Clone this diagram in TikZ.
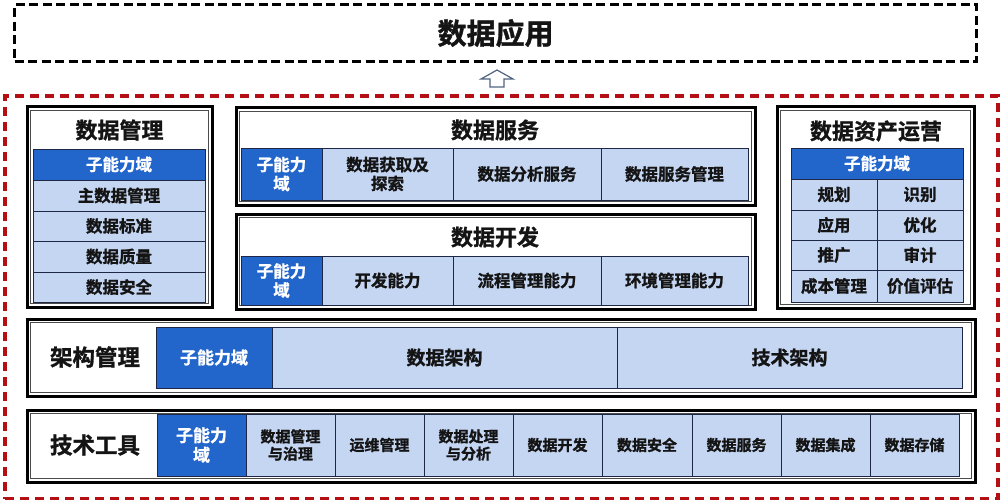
\documentclass[tikz,border=0pt]{standalone}
\usepackage{fontspec}
\setmainfont{Noto Sans CJK SC}[BoldFont={Noto Sans CJK SC Bold}, BoldFeatures={FakeBold=1.2}]
\definecolor{dblue}{RGB}{34,102,204}
\definecolor{lblue}{RGB}{197,214,242}
\definecolor{cellline}{RGB}{30,40,70}
\definecolor{dred}{RGB}{180,16,20}
\definecolor{txt}{RGB}{20,20,20}
\definecolor{arrowc}{RGB}{80,100,130}
\newcommand\fs[1]{\fontsize{#1pt}{\dimexpr #1pt*115/100\relax}\selectfont\bfseries}
\newcommand\cellat[7]{%
  \node[#1, anchor=north west, minimum width={(#5)-(#3)}, minimum height={(#6)-(#4)}] (#2) at (#3,#4) {#7};}
\newcommand\frameat[5]{%
  \node[frame, anchor=north west, minimum width={(#4)-(#2)}, minimum height={(#5)-(#3)}] (#1) at (#2,#3) {};
  \draw[innerline] ({#2+3.6},{#3+3.6}) rectangle ({#4-3.6},{#5-3.6});}
\tikzset{
  frame/.style={draw=black, line width=3pt, fill=white, inner sep=0pt, outer sep=0pt},
  innerline/.style={draw=black!70, line width=0.7pt},
  hdr/.style={fill=dblue, draw=cellline, line width=0.7pt, text=white, align=center, inner sep=0pt, outer sep=0pt},
  cell/.style={fill=lblue, draw=cellline, line width=0.7pt, text=txt, align=center, inner sep=0pt, outer sep=0pt},
  ttl/.style={text=txt, inner sep=0pt, font=\fs{22}},
  cf/.style={font=\fs{16.5}},
}
\begin{document}
\begin{tikzpicture}[x=1pt,y=-1pt]
\useasboundingbox (0,0) rectangle (1000,500);
\fill[white] (0,0) rectangle (1000,500);

% top application box
\node[draw=black, line width=3.2pt, dash pattern=on 9pt off 4.5pt, anchor=north west,
      minimum width=962, minimum height=57, inner sep=0pt, text=txt, font=\fs{29}]
      (app) at (13,3) {数据应用};

% red dashed container
\node[draw=dred, line width=3.8pt, dash pattern=on 9pt off 6pt, anchor=north west,
      minimum width=993, minimum height=403, inner sep=0pt] (cont) at (3,94) {};

% hollow up arrow
\draw[draw=arrowc, line width=1.2pt, fill=white, line join=miter]
  (490,87) -- (490,79) -- (481,79) -- (497,70) -- (513,79) -- (504,79) -- (504,87) -- cycle;

% ===== 数据管理 =====
\frameat{dm}{27}{107}{212}{307}
\node[ttl] (dmt) at (119.5,130) {数据管理};
\cellat{hdr,cf}{dm0}{33}{149}{205}{180}{子能力域}
\cellat{cell,cf}{dm1}{33}{180}{205}{211}{主数据管理}
\cellat{cell,cf}{dm2}{33}{211}{205}{241}{数据标准}
\cellat{cell,cf}{dm3}{33}{241}{205}{272}{数据质量}
\cellat{cell,cf}{dm4}{33}{272}{205}{302}{数据安全}

% ===== 数据服务 =====
\frameat{ds}{236}{108}{755}{205}
\node[ttl] (dst) at (495,130) {数据服务};
\cellat{hdr,cf}{ds0}{241}{148}{322}{200}{子能力\\域}
\cellat{cell,cf}{ds1}{322}{148}{453}{200}{数据获取及\\探索}
\cellat{cell,cf}{ds2}{453}{148}{601}{200}{数据分析服务}
\cellat{cell,cf}{ds3}{601}{148}{748}{200}{数据服务管理}

% ===== 数据开发 =====
\frameat{dd}{236}{214}{755}{309}
\node[ttl] (ddt) at (495,237) {数据开发};
\cellat{hdr,cf}{dd0}{241}{256}{322}{305}{子能力\\域}
\cellat{cell,cf}{dd1}{322}{256}{453}{305}{开发能力}
\cellat{cell,cf}{dd2}{453}{256}{601}{305}{流程管理能力}
\cellat{cell,cf}{dd3}{601}{256}{748}{305}{环境管理能力}

% ===== 数据资产运营 =====
\frameat{da}{777}{107}{974}{308}
\node[ttl] (dat) at (876,131) {数据资产运营};
\cellat{hdr,cf}{da0}{791}{148}{963}{179}{子能力域}
\cellat{cell,cf}{da1}{791}{179}{877}{210}{规划}
\cellat{cell,cf}{da2}{877}{179}{963}{210}{识别}
\cellat{cell,cf}{da3}{791}{210}{877}{240}{应用}
\cellat{cell,cf}{da4}{877}{210}{963}{240}{优化}
\cellat{cell,cf}{da5}{791}{240}{877}{270}{推广}
\cellat{cell,cf}{da6}{877}{240}{963}{270}{审计}
\cellat{cell,cf}{da7}{791}{270}{877}{302}{成本管理}
\cellat{cell,cf}{da8}{877}{270}{963}{302}{价值评估}

% ===== 架构管理 =====
\frameat{jg}{27}{319}{975}{396}
\node[ttl, font=\fs{22.5}] (jgt) at (95,357) {架构管理};
\cellat{hdr,font=\fs{17}}{jg0}{156}{327}{272}{388}{子能力域}
\cellat{cell,font=\fs{19}}{jg1}{272}{327}{617}{388}{数据架构}
\cellat{cell,font=\fs{19}}{jg2}{617}{327}{962}{388}{技术架构}

% ===== 技术工具 =====
\frameat{js}{27}{410}{975}{482}
\node[ttl, font=\fs{22.5}] (jst) at (95,445) {技术工具};
\cellat{hdr,font=\fs{17}}{js0}{157}{414}{246}{476}{子能力\\域}
\cellat{cell,font=\fs{15}}{js1}{246}{414}{335}{476}{数据管理\\与治理}
\cellat{cell,font=\fs{15}}{js2}{335}{414}{424}{476}{运维管理}
\cellat{cell,font=\fs{15}}{js3}{424}{414}{513}{476}{数据处理\\与分析}
\cellat{cell,font=\fs{15}}{js4}{513}{414}{602}{476}{数据开发}
\cellat{cell,font=\fs{15}}{js5}{602}{414}{692}{476}{数据安全}
\cellat{cell,font=\fs{15}}{js6}{692}{414}{781}{476}{数据服务}
\cellat{cell,font=\fs{15}}{js7}{781}{414}{870}{476}{数据集成}
\cellat{cell,font=\fs{15}}{js8}{870}{414}{959}{476}{数据存储}
\end{tikzpicture}
\end{document}
